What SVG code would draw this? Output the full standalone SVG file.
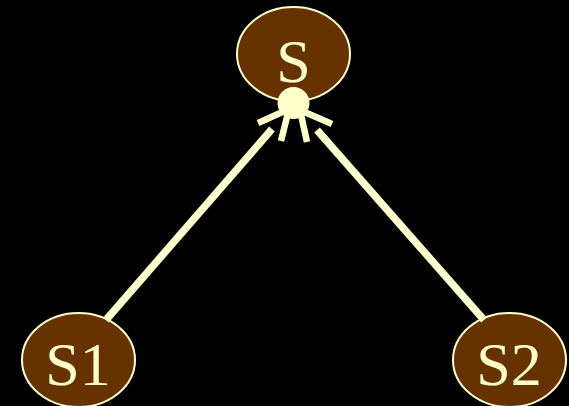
<svg xmlns="http://www.w3.org/2000/svg" width="569" height="406" viewBox="0 0 569 406">
<style>
.node ellipse{fill:#663300;stroke:#ffffcc;stroke-width:2}
.node text{fill:#ffffcc;font-family:"Liberation Serif","Times New Roman",serif;font-size:62px;text-anchor:middle}
.edge{stroke:#ffffcc;stroke-width:7.5;fill:none;stroke-linecap:butt}
.arm{stroke:#ffffcc;stroke-width:6.5;fill:none;stroke-linecap:butt}
</style>
<rect width="569" height="406" fill="#000"/>
<g id="node-S" class="node">
<ellipse cx="293.5" cy="54" rx="56.5" ry="47"/>
<text x="293.5" y="82">S</text>
</g>
<g id="node-S1" class="node">
<ellipse cx="78.5" cy="360" rx="56.5" ry="47"/>
<text x="78" y="385">S1</text>
</g>
<g id="node-S2" class="node">
<ellipse cx="509.5" cy="360" rx="56.5" ry="47"/>
<text x="509" y="385">S2</text>
</g>
<g id="connectors">
<line class="edge" x1="106" y1="320" x2="272" y2="129"/>
<line class="edge" x1="484" y1="320" x2="317" y2="130"/>
<path class="arm" d="M258,123 L289,109 L281,141"/>
<path class="arm" d="M332,124 L300,110 L307,142"/>
<circle cx="293.5" cy="103" r="16" fill="#ffffcc"/>
</g>
</svg>
